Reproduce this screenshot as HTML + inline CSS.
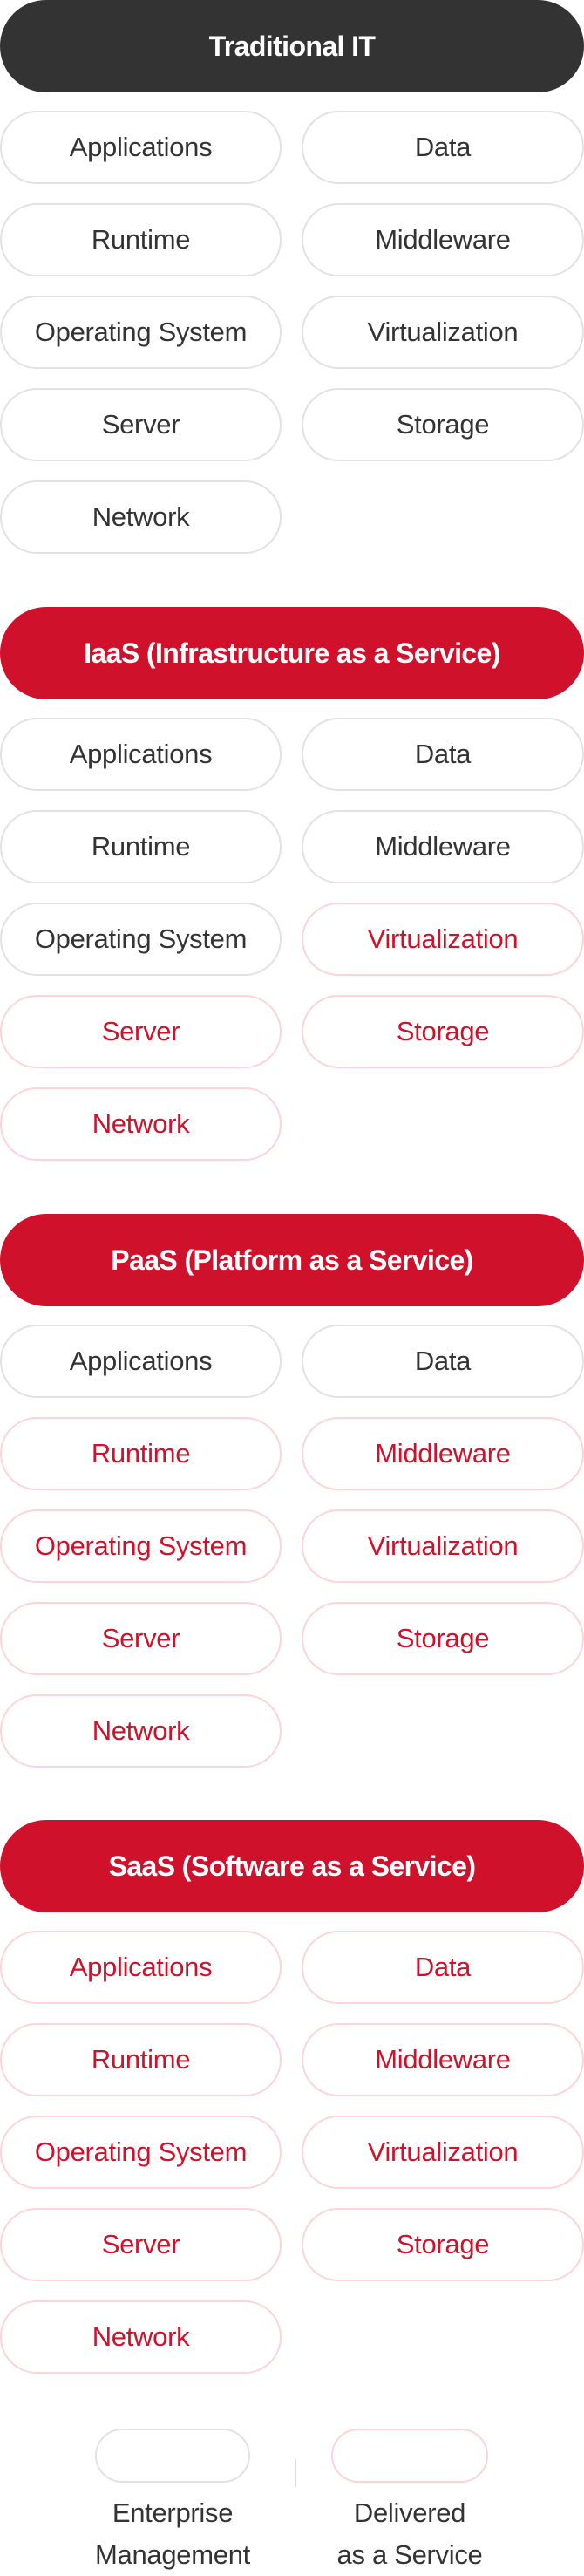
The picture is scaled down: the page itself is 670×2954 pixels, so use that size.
<!DOCTYPE html>
<html><head><meta charset="utf-8"><style>
html,body{margin:0;padding:0;background:#fff;}
body{width:670px;height:2945px;position:relative;overflow:hidden;font-family:"Liberation Sans",Arial,sans-serif;}
.h{position:absolute;left:0;width:670px;height:106px;border-radius:53px;color:#fff;font-weight:bold;font-size:32px;display:flex;align-items:center;justify-content:center;letter-spacing:-0.6px;}
.p{position:absolute;height:84px;box-sizing:border-box;border:2px solid #e2e2e2;border-radius:42px;display:flex;align-items:center;justify-content:center;font-size:31px;color:#333;letter-spacing:-0.3px;}
.p.r{border-color:#fcd4db;color:#d0112b;}
.l{left:0;width:323px;}
.rt{left:346px;width:324px;}
.t{position:absolute;font-size:31px;color:#333;text-align:center;line-height:48px;letter-spacing:-0.3px;}
</style></head><body>
<div class="h" style="top:0;background:#333;">Traditional IT</div>
<div class="p l" style="top:127px">Applications</div><div class="p rt" style="top:127px">Data</div>
<div class="p l" style="top:233px">Runtime</div><div class="p rt" style="top:233px">Middleware</div>
<div class="p l" style="top:339px">Operating System</div><div class="p rt" style="top:339px">Virtualization</div>
<div class="p l" style="top:445px">Server</div><div class="p rt" style="top:445px">Storage</div>
<div class="p l" style="top:551px">Network</div>

<div class="h" style="top:696px;background:#d0112b;">IaaS (Infrastructure as a Service)</div>
<div class="p l" style="top:823px">Applications</div><div class="p rt" style="top:823px">Data</div>
<div class="p l" style="top:929px">Runtime</div><div class="p rt" style="top:929px">Middleware</div>
<div class="p l" style="top:1035px">Operating System</div><div class="p rt r" style="top:1035px">Virtualization</div>
<div class="p l r" style="top:1141px">Server</div><div class="p rt r" style="top:1141px">Storage</div>
<div class="p l r" style="top:1247px">Network</div>

<div class="h" style="top:1392px;background:#d0112b;">PaaS (Platform as a Service)</div>
<div class="p l" style="top:1519px">Applications</div><div class="p rt" style="top:1519px">Data</div>
<div class="p l r" style="top:1625px">Runtime</div><div class="p rt r" style="top:1625px">Middleware</div>
<div class="p l r" style="top:1731px">Operating System</div><div class="p rt r" style="top:1731px">Virtualization</div>
<div class="p l r" style="top:1837px">Server</div><div class="p rt r" style="top:1837px">Storage</div>
<div class="p l r" style="top:1943px">Network</div>

<div class="h" style="top:2087px;background:#d0112b;">SaaS (Software as a Service)</div>
<div class="p l r" style="top:2214px">Applications</div><div class="p rt r" style="top:2214px">Data</div>
<div class="p l r" style="top:2320px">Runtime</div><div class="p rt r" style="top:2320px">Middleware</div>
<div class="p l r" style="top:2426px">Operating System</div><div class="p rt r" style="top:2426px">Virtualization</div>
<div class="p l r" style="top:2532px">Server</div><div class="p rt r" style="top:2532px">Storage</div>
<div class="p l r" style="top:2638px">Network</div>

<div class="p" style="top:2785px;left:109px;width:178px;height:62px;border-radius:31px;"></div>
<div class="p r" style="top:2785px;left:380px;width:180px;height:62px;border-radius:31px;"></div>
<div style="position:absolute;left:338px;top:2820px;width:2px;height:32px;background:#ddd;"></div>
<div class="t" style="left:78px;width:240px;top:2858px;">Enterprise<br>Management</div>
<div class="t" style="left:350px;width:240px;top:2858px;">Delivered<br>as a Service</div>
</body></html>
